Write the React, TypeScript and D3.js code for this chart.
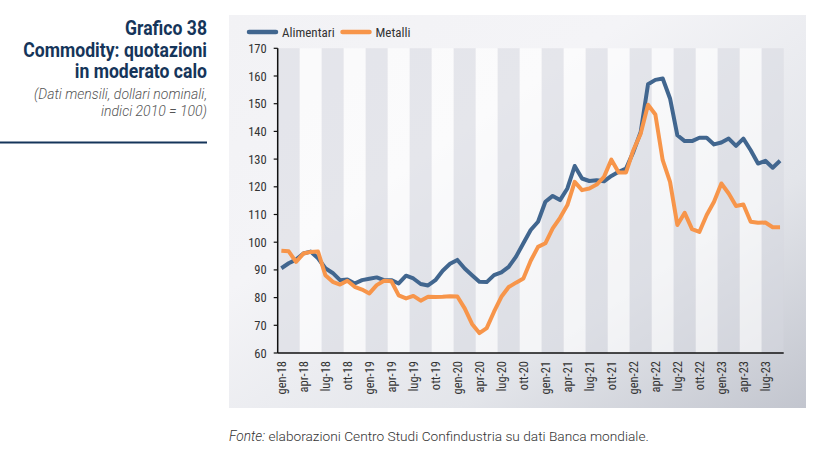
import React from 'react';
import * as d3 from 'd3';

const monthNames = ['gen', 'feb', 'mar', 'apr', 'mag', 'giu', 'lug', 'ago', 'set', 'ott', 'nov', 'dic'];
const years = ['18', '19', '20', '21', '22', '23'];
const months: string[] = years.flatMap((yr) => monthNames.map((m) => `${m}-${yr}`)).slice(0, 69);

const alimentari = [
  90.6, 92.4, 93.7, 95.9, 96.6, 94.2, 90.6, 88.9, 86.3, 86.5, 85.1, 86.3,
  86.8, 87.3, 86.3, 86.3, 85.1, 87.9, 86.9, 84.9, 84.4, 86.3, 89.7, 92.2,
  93.6, 90.5, 88.1, 85.7, 85.6, 88.1, 89.1, 91.1, 94.8, 99.6, 104.4, 107.4,
  114.6, 116.7, 115.2, 119.4, 127.5, 123.0, 122.1, 122.4, 122.0, 123.9, 125.4, 126.6,
  132.6, 139.8, 157.0, 158.6, 159.1, 151.9, 138.6, 136.5, 136.5, 137.7, 137.7, 135.3,
  136.0, 137.4, 134.8, 137.4, 133.2, 128.4, 129.4, 126.9, 129.4,
];

const metalli = [
  96.9, 96.7, 92.9, 95.9, 96.5, 96.6, 88.1, 85.7, 84.7, 86.1, 83.9, 82.9,
  81.5, 84.5, 86.1, 85.9, 80.8, 79.7, 80.6, 78.9, 80.3, 80.2, 80.3, 80.5,
  80.4, 76.1, 70.5, 67.2, 69.0, 74.9, 80.3, 83.8, 85.4, 86.9, 93.3, 98.3,
  99.6, 105.0, 108.8, 113.4, 121.8, 118.8, 119.4, 120.8, 123.6, 129.8, 125.2, 125.2,
  133.2, 139.2, 149.6, 146.1, 129.6, 121.8, 106.2, 110.6, 104.7, 103.7, 109.8, 114.6,
  121.2, 117.6, 113.1, 113.6, 107.4, 107.0, 107.1, 105.4, 105.4,
];

const yTicks = [60, 70, 80, 90, 100, 110, 120, 130, 140, 150, 160, 170];
const seriesNames = ['Alimentari', 'Metalli'];
const seriesColors = ['#41668f', '#f7954a'];

const titleLines = ['Grafico 38', 'Commodity: quotazioni', 'in moderato calo'];
const subtitleLines = ['(Dati mensili, dollari nominali,', 'indici 2010 = 100)'];

const W = 814;
const H = 451;
const PL = 277.7;
const PR = 783.7;
const PT = 48.3;
const PB = 353;
const NARROW = "'Liberation Sans Narrow', 'Roboto Condensed', 'DejaVu Sans Condensed', sans-serif";

export default function App() {
  const x = d3.scaleBand<string>().domain(months).range([PL, PR]).padding(0);
  const y = d3.scaleLinear().domain([60, 170]).range([PB, PT]);
  const cx = (i: number) => (x(months[i]) as number) + x.bandwidth() / 2;
  const line = d3
    .line<number>()
    .x((_, i) => cx(i))
    .y((d) => y(d));

  const quarterStarts = d3.range(0, months.length, 3);

  return (
    <div style={{ position: 'absolute', left: 0, top: 0 }}>
      <svg width={W} height={H} style={{ display: 'block' }}>
        <defs>
          <linearGradient id="panelGrad" x1="0" y1="0" x2="1" y2="1">
            <stop offset="0" stopColor="#f2f2f5" />
            <stop offset="0.35" stopColor="#f4f4f7" />
            <stop offset="0.7" stopColor="#e3e5ea" />
            <stop offset="1" stopColor="#c2c5ce" />
          </linearGradient>
        </defs>
        <rect x={0} y={0} width={W} height={H} fill="#ffffff" />

        {/* Title block */}
        <g transform="translate(207,0) scale(0.88,1)">
          {titleLines.map((t, i) => (
            <text
              key={t}
              x={0}
              y={35 + i * 21.7}
              textAnchor="end"
              fontFamily="Roboto, sans-serif"
              fontWeight={700}
              fontSize={20}
              fill="#15355a"
            >
              {t}
            </text>
          ))}
        </g>
        {subtitleLines.map((t, i) => (
          <text
            key={t}
            x={207}
            y={99 + i * 16.5}
            textAnchor="end"
            fontFamily="Roboto, sans-serif"
            fontWeight={300}
            fontStyle="italic"
            fontSize={14}
            fill="#555"
          >
            {t}
          </text>
        ))}
        <line x1={0} x2={207} y1={142.5} y2={142.5} stroke="#15355a" strokeWidth={2} />

        {/* Chart panel */}
        <rect x={229} y={15} width={577} height={393} fill="url(#panelGrad)" />

        {/* Quarter bands */}
        {quarterStarts.map((s, k) => {
          const x0 = x(months[s]) as number;
          const e = Math.min(s + 2, months.length - 1);
          const x1 = (x(months[e]) as number) + x.bandwidth();
          return (
            <rect
              key={s}
              x={x0}
              y={PT}
              width={x1 - x0}
              height={PB - PT}
              fill={k % 2 === 0 ? '#d6d8df' : '#ffffff'}
              fillOpacity={k % 2 === 0 ? 0.5 : 0.6}
            />
          );
        })}

        {/* Legend */}
        {seriesNames.map((n, i) => {
          const lx = i === 0 ? 249 : 342.5;
          return (
            <g key={n}>
              <line x1={lx} x2={lx + 27} y1={32} y2={32} stroke={seriesColors[i]} strokeWidth={4.5} strokeLinecap="round" />
              <text x={lx + 33} y={32} dominantBaseline="central" fontFamily={NARROW} fontSize={13} fill="#333">
                {n}
              </text>
            </g>
          );
        })}

        {/* Y axis */}
        <line x1={PL} x2={PL} y1={PT} y2={PB} stroke="#111" strokeWidth={1.5} />
        {yTicks.map((t) => (
          <g key={t}>
            <line x1={PL - 4} x2={PL} y1={y(t)} y2={y(t)} stroke="#111" strokeWidth={1.2} />
            <text
              x={PL - 11}
              y={y(t)}
              textAnchor="end"
              dominantBaseline="central"
              fontFamily={NARROW}
              fontSize={12.5}
              fill="#333"
            >
              {t}
            </text>
          </g>
        ))}

        {/* X axis */}
        <line x1={PL} x2={PR} y1={PB} y2={PB} stroke="#111" strokeWidth={1.5} />
        {quarterStarts.map((s) => (
          <text
            key={s}
            transform={`translate(${cx(s)},${361}) rotate(-90)`}
            textAnchor="end"
            dominantBaseline="central"
            fontFamily={NARROW}
            fontSize={12.5}
            fill="#333"
          >
            {months[s]}
          </text>
        ))}

        {/* Lines */}
        {[alimentari, metalli].map((s, i) => (
          <path
            key={i}
            d={line(s) as string}
            fill="none"
            stroke={seriesColors[i]}
            strokeWidth={4}
            strokeLinejoin="round"
          />
        ))}

        {/* Footer */}
        <text x={229} y={440.5} fontFamily="Roboto, sans-serif" fontSize={13.7} fill="#333" fontWeight={300}>
          <tspan fontStyle="italic">Fonte:</tspan>
          <tspan> elaborazioni Centro Studi Confindustria su dati Banca mondiale.</tspan>
        </text>
      </svg>
    </div>
  );
}
